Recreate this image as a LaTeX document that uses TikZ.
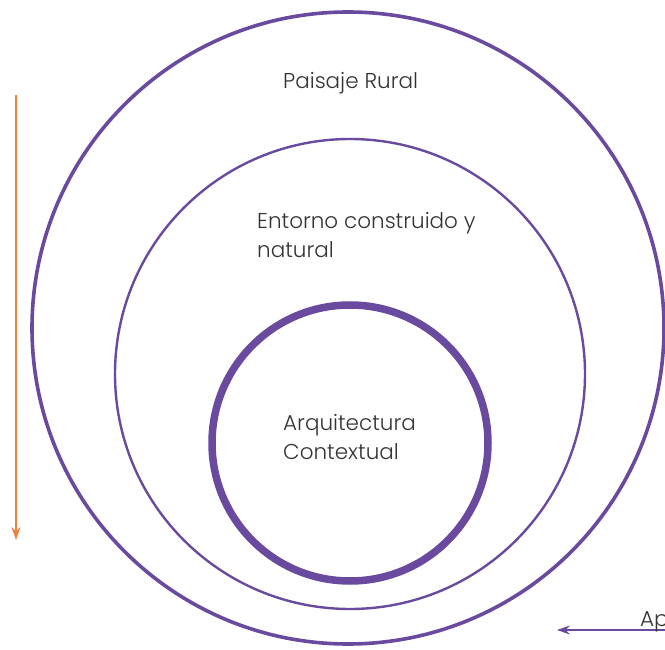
\documentclass[tikz,border=0pt]{standalone}
\usepackage{fontspec}
\setmainfont{Poppins}[UprightFont={* Light}]
\usepackage{tikz}
\usetikzlibrary{positioning,calc,arrows.meta}
\tikzset{>=stealth}
\definecolor{lila}{HTML}{6A4A9E}
\definecolor{naranja}{HTML}{F0823C}
\tikzset{
  ring/.style={draw=lila},
  etiqueta/.style={text=black!80,font=\fontsize{21.5}{29.5}\selectfont,align=left,inner sep=0pt,anchor=west}
}

\begin{document}
\begin{tikzpicture}[x=1pt,y=-1pt]
\useasboundingbox (0,0) rectangle (665,650);
\clip (0,0) rectangle (665,650);
\coordinate (O1) at (348,328);
\coordinate (O2) at (350,374);
\coordinate (O3) at (350,443);
\draw[ring,line width=3.6pt] (O1) circle[radius=316];
\draw[ring,line width=2.4pt] (O2) circle[radius=235];
\draw[ring,line width=7.5pt] (O3) circle[radius=138];
\node[etiqueta] (paisaje) at (283,83) {Paisaje Rural};
\node[etiqueta] (entorno) at (257,235) {Entorno construido y\\natural};
\node[etiqueta] (arq) at (283,437) {Arquitectura\\Contextual};
% flechas
\coordinate (Na) at (16,95);
\coordinate (Nb) at (16,540);
\draw[naranja,line width=1.3pt,-{Stealth[length=13pt,width=9pt]}] (Na) -- (Nb);
\coordinate (La) at (680,630);
\coordinate (Lb) at (557,630);
\draw[lila,line width=1.3pt,-{Stealth[length=13pt,width=9pt]}] (La) -- (Lb);
\node[etiqueta,anchor=base west] (ap) at (640,626) {Ap};
\end{tikzpicture}
\end{document}
